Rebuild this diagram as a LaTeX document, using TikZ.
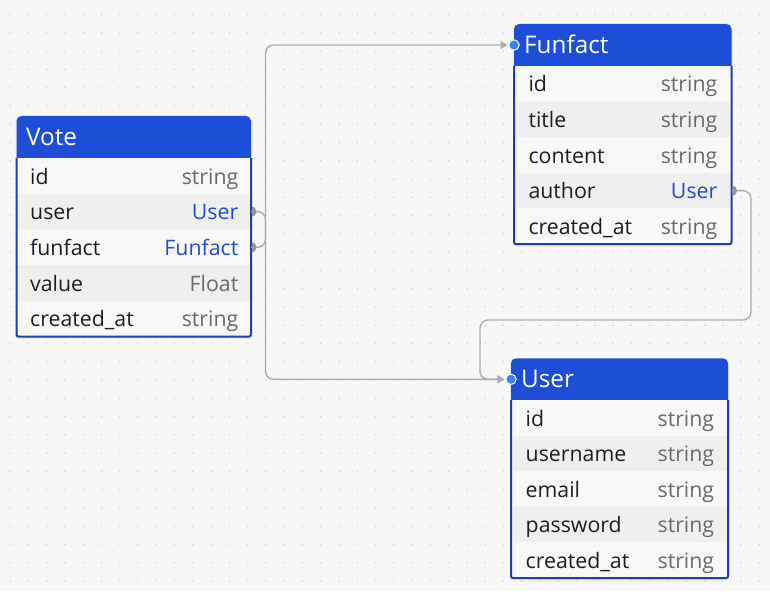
\documentclass[tikz,border=0pt]{standalone}
\usepackage{fontspec}
\setmainfont{Open Sans}
\usetikzlibrary{arrows.meta}
\definecolor{canvas}{RGB}{247,247,247}
\definecolor{hdr}{RGB}{29,78,216}
\definecolor{brd}{RGB}{30,64,175}
\definecolor{rowA}{RGB}{248,248,248}
\definecolor{rowB}{RGB}{239,239,239}
\definecolor{nametxt}{RGB}{30,30,30}
\definecolor{typetxt}{RGB}{105,105,105}
\definecolor{reftxt}{RGB}{33,72,222}
\definecolor{wire}{RGB}{168,172,180}
\definecolor{srcdot}{RGB}{150,150,150}
\definecolor{tgtdot}{RGB}{59,130,246}
\definecolor{griddot}{RGB}{212,212,212}
\begin{document}
\begin{tikzpicture}[x=1pt,y=-1pt,
  rowbox/.style={draw=none, minimum height=35.7pt, inner sep=0pt, outer sep=0pt, anchor=north west},
  hdrbox/.style={draw=none, minimum height=42pt, inner sep=0pt, outer sep=0pt, anchor=north west},
  namet/.style={anchor=base west, inner sep=0pt, text=nametxt, font=\fontsize{21.3}{25}\selectfont},
  typet/.style={anchor=base east, inner sep=0pt, text=typetxt, font=\fontsize{21.3}{25}\selectfont},
  reft/.style={typet, text=reftxt},
  hdrt/.style={anchor=base west, inner sep=0pt, text=white, font=\fontsize{24.3}{28}\selectfont},
  outline/.style={draw=brd, line width=2pt, rounded corners=2pt},
  wire/.style={draw=wire, line width=1.4pt, rounded corners=8pt, shorten >=6.5pt,
    -{Triangle[length=7pt,width=8pt,fill=wire]}},
  srcport/.style={fill=srcdot},
  tgtport/.style={fill=tgtdot, draw=white, line width=1pt},
  shadowbox/.style={fill=black, opacity=0.05}
]
\useasboundingbox (0,0) rectangle (770,591);
\fill[canvas] (0,0) rectangle (770,591);
\foreach \i in {0,...,41}
  \foreach \j in {0,...,31}
    \fill[griddot] ({10.2+\i*18.27},{14.6+\j*18.27}) circle (0.85pt);

% shadows
\fill[shadowbox, rounded corners=3pt] (15.5,118) rectangle (252.5,339);
\fill[shadowbox, rounded corners=3pt] (513,26) rectangle (732.5,246.5);
\fill[shadowbox, rounded corners=3pt] (510,360) rectangle (729,580.5);

% ---------- Vote ----------
\fill[hdr, rounded corners=5pt] (16.5,116) rectangle (251,164);
\node[hdrbox, minimum width=234.5pt] (vote-hdr) at (16.5,116) {};
\node[hdrt] (vote-title) at (26,145) {Vote};
\foreach [count=\k from 0] \key/\nm/\ty/\st/\fc in {
  id/id/string/typet/rowA,
  user/user/User/reft/rowB,
  funfact/funfact/Funfact/reft/rowA,
  value/value/Float/typet/rowB,
  ca/created\_at/string/typet/rowA} {
  \node[rowbox, minimum width=234.5pt, fill=\fc] (vote-\key) at (16.5,{158+\k*35.7}) {};
  \node[namet] (vote-\key-n) at (30,{158+\k*35.7+26}) {\nm};
  \node[\st] (vote-\key-t) at (238.5,{158+\k*35.7+26}) {\ty};
}

% ---------- Funfact ----------
\fill[hdr, rounded corners=5pt] (514,24) rectangle (731.5,72);
\node[hdrbox, minimum width=217.5pt] (funfact-hdr) at (514,24) {};
\node[hdrt] (funfact-title) at (524,53.3) {Funfact};
\foreach [count=\k from 0] \key/\nm/\ty/\st/\fc in {
  id/id/string/typet/rowA,
  title/title/string/typet/rowB,
  content/content/string/typet/rowA,
  author/author/User/reft/rowB,
  ca/created\_at/string/typet/rowA} {
  \node[rowbox, minimum width=217.5pt, fill=\fc] (funfact-\key) at (514,{66+\k*35.6}) {};
  \node[namet] (funfact-\key-n) at (528.3,{66+\k*35.6+26}) {\nm};
  \node[\st] (funfact-\key-t) at (717.5,{66+\k*35.6+26}) {\ty};
}

% ---------- User ----------
\fill[hdr, rounded corners=5pt] (511,358.3) rectangle (728,406);
\node[hdrbox, minimum width=217pt] (user-hdr) at (511,358.3) {};
\node[hdrt] (user-title) at (521,387.5) {User};
\foreach [count=\k from 0] \key/\nm/\ty/\st/\fc in {
  id/id/string/typet/rowA,
  username/username/string/typet/rowB,
  email/email/string/typet/rowA,
  password/password/string/typet/rowB,
  ca/created\_at/string/typet/rowA} {
  \node[rowbox, minimum width=217pt, fill=\fc] (user-\key) at (511,{400+\k*35.6}) {};
  \node[namet] (user-\key-n) at (525.5,{400+\k*35.6+26}) {\nm};
  \node[\st] (user-\key-t) at (714.3,{400+\k*35.6+26}) {\ty};
}

% outlines
\draw[outline] (vote-id.north west) -- (vote-ca.south west) -- (vote-ca.south east) -- (vote-id.north east);
\draw[outline] (funfact-id.north west) -- (funfact-ca.south west) -- (funfact-ca.south east) -- (funfact-id.north east);
\draw[outline] (user-id.north west) -- (user-ca.south west) -- (user-ca.south east) -- (user-id.north east);

% ---------- connectors ----------
\coordinate (trunk) at (265.5,0);
\coordinate (rightx) at (751,0);
\coordinate (leftx) at (480,0);
\coordinate (bus) at (0,320);

\draw[wire] (vote-user.east) -- (trunk |- vote-user.east) -- (trunk |- user-hdr.west) -- (user-hdr.west);
\draw[wire] (vote-funfact.east) -- (trunk |- vote-funfact.east) -- (trunk |- funfact-hdr.west) -- (funfact-hdr.west);
\draw[wire] (funfact-author.east) -- (rightx |- funfact-author.east) -- (rightx |- bus) -- (leftx |- bus) -- (leftx |- user-hdr.west) -- (user-hdr.west);

% source ports (half hidden behind the table edge)
\begin{scope}
  \clip (252,0) rectangle (300,591);
  \fill[srcport] (vote-user.east) circle (5.5pt);
  \fill[srcport] (vote-funfact.east) circle (5.5pt);
\end{scope}
\begin{scope}
  \clip (732.5,0) rectangle (770,591);
  \fill[srcport] (funfact-author.east) circle (5.5pt);
\end{scope}

% target ports
\filldraw[tgtport] (funfact-hdr.west) circle (5.2pt);
\filldraw[tgtport] (user-hdr.west) circle (5.2pt);
\end{tikzpicture}
\end{document}
